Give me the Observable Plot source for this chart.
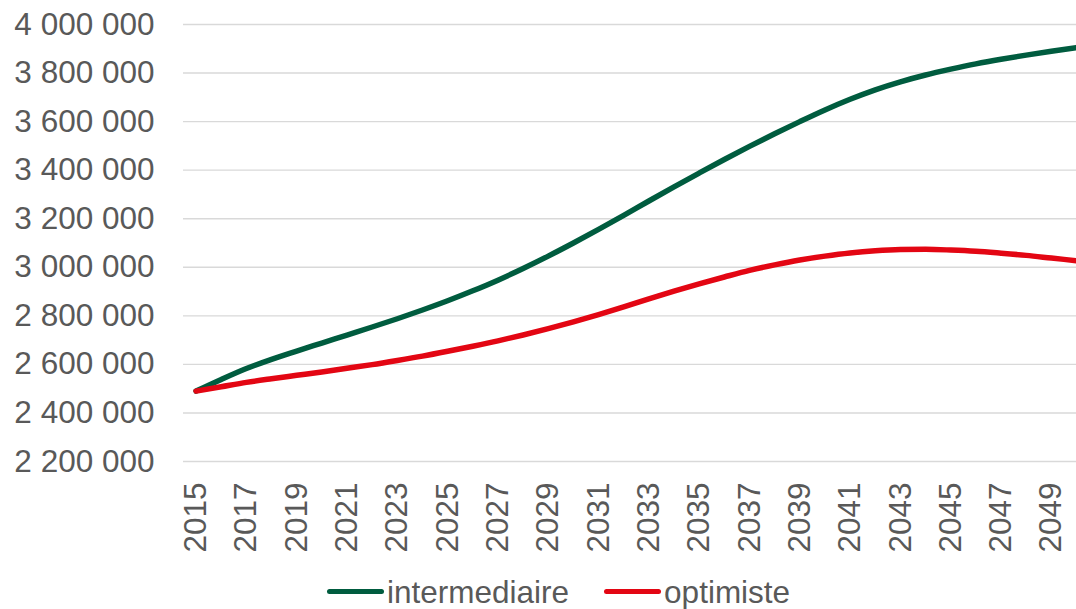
<!DOCTYPE html>
<html>
<head>
<meta charset="utf-8">
<script src="https://cdn.jsdelivr.net/npm/d3@7"></script>
<script src="https://cdn.jsdelivr.net/npm/@observablehq/plot@0.6"></script>
<style>
  html, body { margin: 0; padding: 0; background: #fff; overflow: hidden; }
  #chart svg { display: block; }
  #legend {
    height: 33px; line-height: 33px; white-space: nowrap;
    font-family: "Liberation Sans", Arial, sans-serif; font-size: 31.5px; color: #595959;
    padding-left: 327px;
  }
  .sw { display: inline-block; width: 57px; height: 5px; border-radius: 3px; vertical-align: middle; position: relative; top: -3px; margin-right: 3px; }
  .item2 { margin-left: 35px; }
</style>
</head>
<body>
<div id="chart"></div>
<div id="legend"></div>
<script>
const years = [2015,2016,2017,2018,2019,2020,2021,2022,2023,2024,2025,2026,2027,2028,2029,2030,2031,2032,2033,2034,2035,2036,2037,2038,2039,2040,2041,2042,2043,2044,2045,2046,2047,2048,2049,2050];
const intermediaire = [2490000,2538000,2583000,2621000,2655000,2688000,2721000,2754000,2788000,2824000,2862000,2903000,2947000,2995000,3046000,3100000,3156000,3214000,3273000,3331000,3388000,3444000,3498000,3550000,3600000,3648000,3692000,3731000,3764000,3792000,3816000,3838000,3857000,3874000,3890000,3905000];
const optimiste = [2490000,2508000,2526000,2541000,2555000,2569000,2584000,2599000,2616000,2634000,2654000,2675000,2697000,2721000,2747000,2775000,2805000,2837000,2870000,2902000,2932000,2960000,2987000,3010000,3030000,3046000,3059000,3068000,3073000,3074000,3071000,3066000,3058000,3049000,3038000,3027000];
const seriesNames = ["intermediaire", "optimiste"];
const seriesColors = ["#005C3F", "#E30613"];
const yTicks = [2200000,2400000,2600000,2800000,3000000,3200000,3400000,3600000,3800000,4000000];
const xTicks = [2015,2017,2019,2021,2023,2025,2027,2029,2031,2033,2035,2037,2039,2041,2043,2045,2047,2049];

const rows = [];
years.forEach((yr, i) => {
  rows.push({year: yr, value: intermediaire[i], serie: seriesNames[0]});
  rows.push({year: yr, value: optimiste[i], serie: seriesNames[1]});
});
const fmt = d => d3.format(",")(d).replace(/,/g, " ");

const H = 576;
const chart = Plot.plot({
  width: 1076,
  height: H,
  marginLeft: 183,
  marginRight: 0,
  marginTop: 24,
  marginBottom: H - 461,
  style: {fontFamily: "'Liberation Sans', Arial, sans-serif", fontSize: "31.5px", color: "#595959", background: "#fff", overflow: "hidden"},
  x: {domain: [2014.5, 2050]},
  y: {domain: [2200000, 4000000]},
  color: {domain: seriesNames, range: seriesColors},
  marks: [
    Plot.gridY(yTicks, {stroke: "#d9d9d9", strokeOpacity: 1, strokeWidth: 1.4}),
    Plot.axisY(yTicks, {tickSize: 0, tickPadding: 29, tickFormat: fmt, label: null}),
    Plot.axisX(xTicks, {tickSize: 0, tickRotate: -90, tickPadding: 21, tickFormat: d => String(d), label: null}),
    Plot.line(rows, {x: "year", y: "value", z: "serie", stroke: "serie", strokeWidth: 5.5, curve: "monotone-x"})
  ]
});
document.getElementById("chart").appendChild(chart);

const legend = document.getElementById("legend");
seriesNames.forEach((name, i) => {
  const item = document.createElement("span");
  if (i > 0) item.className = "item2";
  const sw = document.createElement("span");
  sw.className = "sw";
  sw.style.background = seriesColors[i];
  item.appendChild(sw);
  item.appendChild(document.createTextNode(name));
  legend.appendChild(item);
});
</script>
</body>
</html>
